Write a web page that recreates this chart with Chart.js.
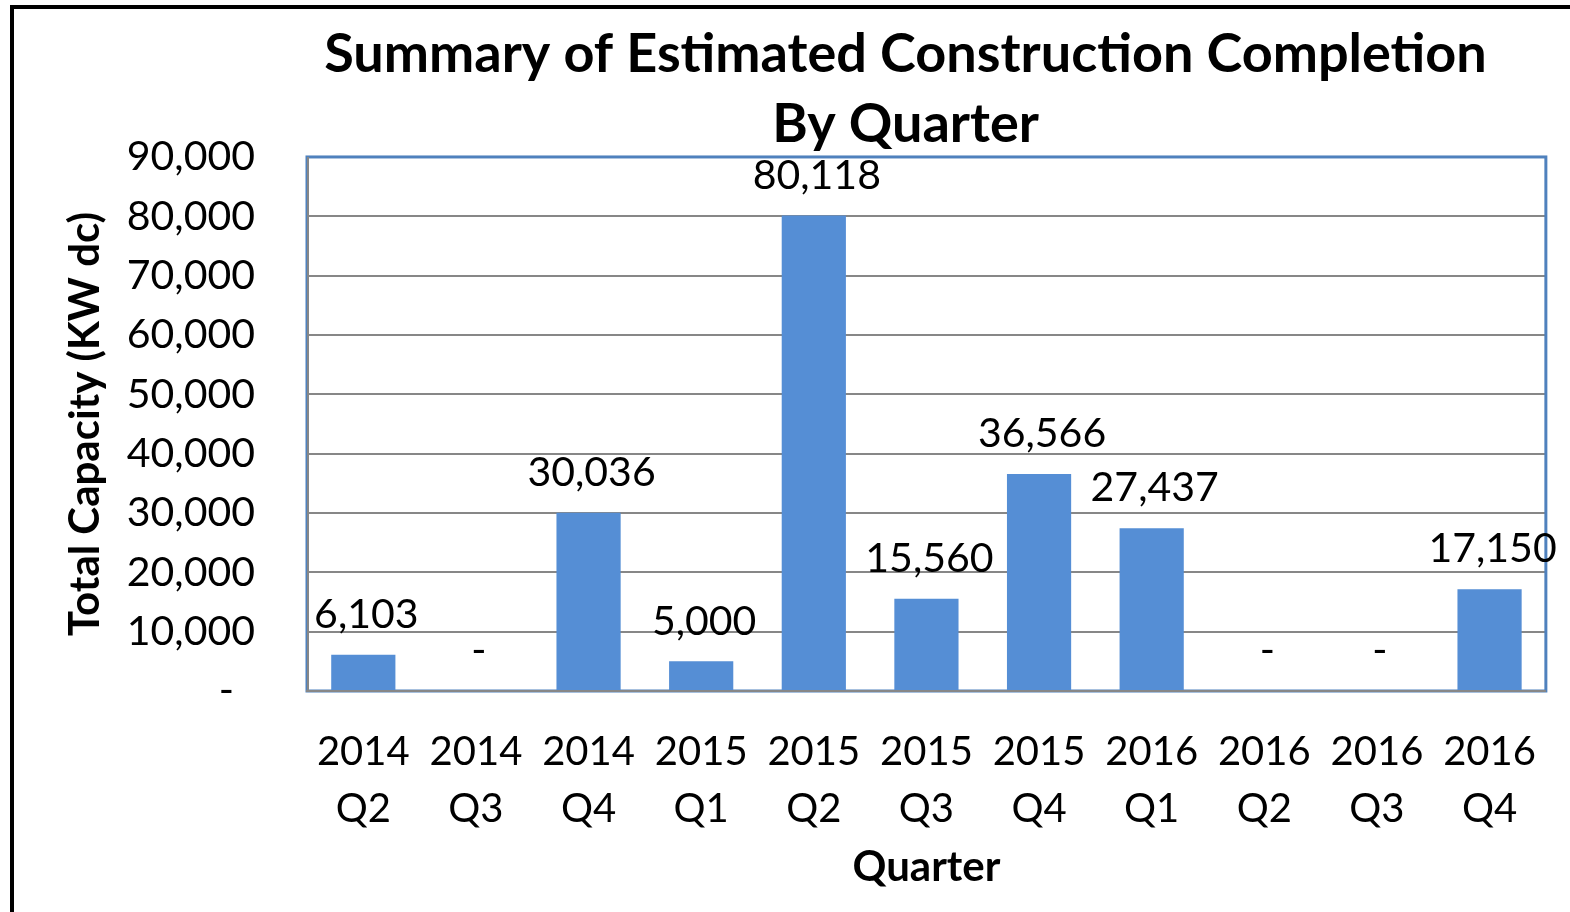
<!DOCTYPE html>
<html>
<head>
<meta charset="utf-8">
<script src="https://cdn.jsdelivr.net/npm/chart.js@4/dist/chart.umd.min.js"></script>
<style>
  html, body { margin: 0; padding: 0; background: #fff; overflow: hidden; }
  .wrap { position: relative; width: 1570px; height: 912px; }
  .frame { position: absolute; left: 10px; top: 5px; width: 1600px; height: 1000px;
           border-left: 4px solid #000; border-top: 4px solid #000; pointer-events: none; }
</style>
</head>
<body>
<div class="wrap">
  <canvas id="myChart"></canvas>
  <div class="frame"></div>
</div>
<script>
const quarters = [['2014', 'Q2'], ['2014', 'Q3'], ['2014', 'Q4'], ['2015', 'Q1'], ['2015', 'Q2'], ['2015', 'Q3'],
  ['2015', 'Q4'], ['2016', 'Q1'], ['2016', 'Q2'], ['2016', 'Q3'], ['2016', 'Q4']];
const capacity = [6103, 0, 30036, 5000, 80118, 15560, 36566, 27437, 0, 0, 17150];
const yTicks = [0, 10000, 20000, 30000, 40000, 50000, 60000, 70000, 80000, 90000];

const fontFamily = 'Lato';

function fmt(v) {
  return v === 0 ? '-' : v.toLocaleString('en-US');
}

// value labels above each bar
const barLabels = {
  id: 'barLabels',
  afterDatasetsDraw(chart) {
    const ctx = chart.ctx;
    const meta = chart.getDatasetMeta(0);
    ctx.save();
    ctx.font = '41px ' + fontFamily;
    ctx.fillStyle = '#000';
    ctx.textAlign = 'center';
    ctx.textBaseline = 'middle';
    meta.data.forEach((bar, i) => {
      ctx.fillText(fmt(capacity[i]), bar.x + 3, bar.y - 40);
    });
    ctx.restore();
  }
};

// blue box round the plot area
const plotFrame = {
  id: 'plotFrame',
  beforeDatasetsDraw(chart) {
    const a = chart.chartArea;
    const ctx = chart.ctx;
    ctx.save();
    ctx.strokeStyle = '#4F81BD';
    ctx.lineWidth = 3;
    ctx.strokeRect(a.left, a.top, a.right - a.left, a.bottom - a.top);
    ctx.strokeStyle = '#878787';
    ctx.lineWidth = 2;
    ctx.beginPath();
    ctx.moveTo(a.left - 1, a.bottom);
    ctx.lineTo(a.right, a.bottom);
    ctx.moveTo(a.left + 1, a.top);
    ctx.lineTo(a.left + 1, a.bottom);
    ctx.stroke();
    ctx.restore();
  },
  afterLayout(chart) {
    // title is centred a bit right of the canvas centre
    chart.titleBlock.left = 264;
  }
};

const ctx = document.getElementById('myChart');

new Chart(ctx, {
  type: 'bar',
  data: {
    labels: quarters,
    datasets: [{
      data: capacity,
      backgroundColor: '#558ED5',
      barPercentage: 0.57,
      categoryPercentage: 1
    }]
  },
  options: {
    responsive: true,
    maintainAspectRatio: false,
    animation: false,
    layout: { padding: { left: 0, right: 23, top: 0, bottom: 0 } },
    scales: {
      x: {
        afterFit(scale) { scale.height = 221; },
        grid: { display: false, drawTicks: false },
        border: { display: false },
        ticks: {
          color: '#000',
          padding: 33,
          maxRotation: 0,
          autoSkip: false,
          font: { family: fontFamily, size: 40, lineHeight: 1.425 }
        },
        title: {
          display: true,
          text: 'Quarter',
          color: '#000',
          padding: { top: 0, bottom: 19 },
          font: { family: fontFamily, size: 42, weight: 'bold', lineHeight: 1.2 }
        }
      },
      y: {
        min: 0,
        max: 90000,
        afterFit(scale) { scale.width = 307; },
        afterBuildTicks(scale) { scale.ticks = yTicks.map(v => ({ value: v })); },
        grid: { color: '#878787', lineWidth: 2, drawTicks: false },
        border: { display: false },
        ticks: {
          color: '#000',
          padding: 52,
          font: { family: fontFamily, size: 41 },
          callback: (v) => v === 0 ? '-  ' : v.toLocaleString('en-US')
        },
        title: {
          display: true,
          text: 'Total Capacity (KW dc)',
          color: '#000',
          padding: { top: 60, bottom: 0 },
          font: { family: fontFamily, size: 42, weight: 'bold', lineHeight: 1.2 }
        }
      }
    },
    plugins: {
      legend: { display: false },
      tooltip: { enabled: false },
      title: {
        display: true,
        text: ['Summary of Estimated Construction Completion', 'By Quarter'],
        color: '#000',
        padding: { top: 20, bottom: -3 },
        font: { family: fontFamily, size: 54, weight: 'bold', lineHeight: 1.296 }
      }
    }
  },
  plugins: [barLabels, plotFrame]
});
</script>
</body>
</html>
